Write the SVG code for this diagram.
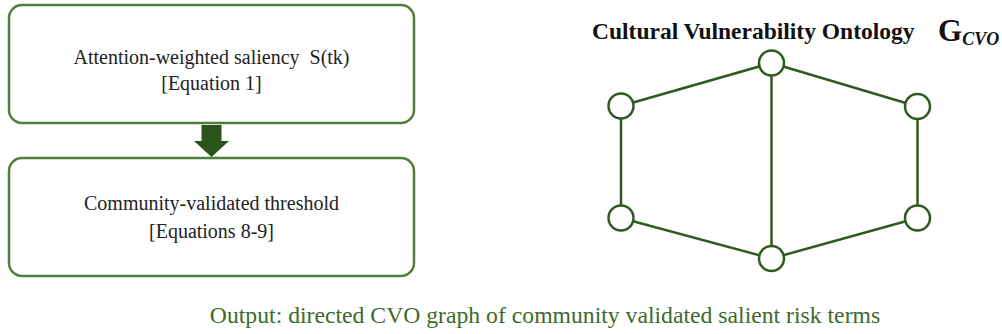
<svg xmlns="http://www.w3.org/2000/svg" width="1002" height="334" viewBox="0 0 1002 334">
<style>
.box{fill:#fff;stroke:#4e7f3c;stroke-width:2.5}
.edge{stroke:#2f5a22;stroke-width:2.5;fill:none}
.node{fill:#fff;stroke:#2f5a22;stroke-width:2.5}
</style>
<rect width="1002" height="334" fill="#fff"/>
<g font-family="Liberation Serif, Times New Roman, serif" font-size="20" fill="#222" text-anchor="middle">
<g id="box1">
<rect class="box" x="9" y="5" width="405" height="118" rx="13"/>
<text x="211.5" y="64">Attention-weighted saliency&#160; S(tk)</text>
<text x="211.5" y="90">[Equation 1]</text>
</g>
<g id="box2">
<rect class="box" x="9" y="158" width="405" height="118" rx="13"/>
<text x="211.5" y="210">Community-validated threshold</text>
<text x="211.5" y="238">[Equations 8-9]</text>
</g>
</g>
<g id="connectors">
<polygon points="201.5,125 221.5,125 221.5,141 229,141 211.5,157 194,141 201.5,141" fill="#2a5419"/>
<line class="edge" x1="621" y1="106" x2="771.5" y2="63"/>
<line class="edge" x1="771.5" y1="63" x2="917.5" y2="106.5"/>
<line class="edge" x1="771.5" y1="63" x2="771.5" y2="258.5"/>
<line class="edge" x1="621" y1="106" x2="621" y2="218"/>
<line class="edge" x1="917.5" y1="106.5" x2="917.5" y2="218"/>
<line class="edge" x1="621" y1="218" x2="771.5" y2="258.5"/>
<line class="edge" x1="917.5" y1="218" x2="771.5" y2="258.5"/>
</g>
<g id="n_top"><circle class="node" cx="771.5" cy="63" r="12.5"/></g>
<g id="n_left"><circle class="node" cx="621" cy="106" r="12.5"/></g>
<g id="n_right"><circle class="node" cx="917.5" cy="106.5" r="12.5"/></g>
<g id="n_lb"><circle class="node" cx="621" cy="218" r="12.5"/></g>
<g id="n_rb"><circle class="node" cx="917.5" cy="218" r="12.5"/></g>
<g id="n_bottom"><circle class="node" cx="771.5" cy="258.5" r="12.5"/></g>
<g id="title">
<text x="592" y="39" font-family="Liberation Serif, Times New Roman, serif" font-size="23.5" font-weight="bold" fill="#111">Cultural Vulnerability Ontology</text>
<text x="938" y="41" font-family="Liberation Serif, Times New Roman, serif" font-size="31" font-weight="bold" fill="#111">G<tspan font-size="18" font-style="italic" dy="4">CVO</tspan></text>
</g>
<text x="545" y="323" font-family="Liberation Serif, Times New Roman, serif" font-size="23.7" fill="#3d6a2c" text-anchor="middle">Output: directed CVO graph of community validated salient risk terms</text>
</svg>
